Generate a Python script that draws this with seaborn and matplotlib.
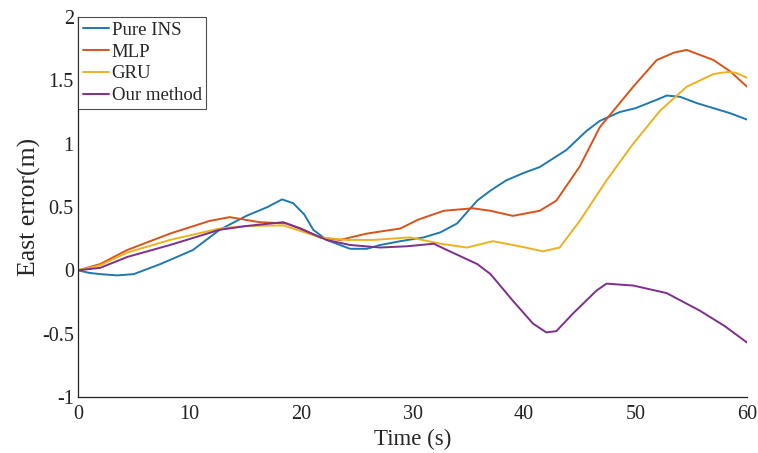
# East error vs time for four methods
import seaborn as sns
import matplotlib.pyplot as plt
import pandas as pd

# Values
t_ins = [0, 1, 2, 3.5, 5, 7.4, 10.3, 12.7, 15.1, 17, 18.3, 19.3, 20.3, 21.1, 22.3, 24.4,
         25.9, 27.1, 28.9, 31, 32.5, 34, 35.8, 37, 38.4, 40, 41.4, 43.8, 45.6, 46.8,
         48.6, 50, 52, 52.8, 54, 55.5, 57, 58.5, 60]
v_ins = [0, -0.02, -0.03, -0.04, -0.03, 0.05, 0.16, 0.32, 0.43, 0.50, 0.56, 0.53, 0.44,
         0.32, 0.24, 0.17, 0.17, 0.20, 0.23, 0.26, 0.30, 0.37, 0.55, 0.63, 0.71, 0.77,
         0.815, 0.95, 1.10, 1.18, 1.25, 1.28, 1.35, 1.38, 1.37, 1.32, 1.28, 1.24, 1.19]

t_mlp = [0, 2, 4.4, 8.25, 11.8, 13.6, 16.3, 18.7, 20, 21.7, 23.5, 25.9, 28.9, 30.5,
         32.8, 35.4, 37, 39, 41.4, 42.9, 45, 46.8, 49.8, 51.9, 53.5, 54.6, 57, 58.5, 60]
v_mlp = [0, 0.05, 0.16, 0.29, 0.39, 0.42, 0.38, 0.37, 0.33, 0.26, 0.24, 0.29, 0.33, 0.40,
         0.47, 0.49, 0.47, 0.43, 0.47, 0.55, 0.82, 1.13, 1.45, 1.66, 1.72, 1.74, 1.66,
         1.57, 1.45]

t_gru = [0, 2, 4.4, 8.25, 12.7, 15.1, 18.4, 19.3, 21.7, 24.1, 26.5, 28.9, 29.8, 32.5,
         34.9, 37.2, 39.6, 41.7, 43.2, 45, 47.4, 49.8, 52.2, 54.6, 57, 58.2, 59, 60]
v_gru = [0, 0.04, 0.14, 0.24, 0.33, 0.35, 0.355, 0.33, 0.26, 0.24, 0.24, 0.255, 0.26,
         0.21, 0.18, 0.23, 0.19, 0.15, 0.18, 0.39, 0.71, 1.00, 1.26, 1.45, 1.55, 1.565,
         1.56, 1.52]

t_our = [0, 2, 4.4, 8.25, 12.7, 15.1, 18.4, 19.9, 22.3, 24.4, 27.1, 29.5, 31.9, 33.1,
         35.8, 37, 39, 40.8, 42, 42.9, 44.4, 46.5, 47.4, 49.8, 52.8, 55.8, 58, 60]
v_our = [0, 0.02, 0.105, 0.20, 0.32, 0.35, 0.38, 0.33, 0.24, 0.20, 0.18, 0.19, 0.21, 0.16,
         0.05, -0.03, -0.24, -0.42, -0.49, -0.48, -0.34, -0.16, -0.105, -0.12, -0.18,
         -0.32, -0.44, -0.57]

labels = ['Pure INS', 'MLP', 'GRU', 'Our method']
colors = ['#1f78b0', '#D95319', '#EDB120', '#7E2F8E']

frames = []
for name, t, v in zip(labels, [t_ins, t_mlp, t_gru, t_our], [v_ins, v_mlp, v_gru, v_our]):
    frames.append(pd.DataFrame({'Time': t, 'Error': v, 'Method': name}))
df = pd.concat(frames, ignore_index=True)

sns.set_style('white')
plt.rcParams['font.family'] = ['Liberation Serif', 'DejaVu Serif']

fig = plt.figure(figsize=(7.58, 4.53), dpi=100)
ax = fig.add_axes([0.1029, 0.1236, 0.8826, 0.8389])

sns.lineplot(data=df, x='Time', y='Error', hue='Method', hue_order=labels,
             palette=dict(zip(labels, colors)), lw=1.4, sort=True,
             estimator=None, ax=ax)

ax.set_xlim(0, 60)
ax.set_ylim(-1, 2)
ax.set_xticks(range(0, 61, 10))
ax.set_yticks([-1, -0.5, 0, 0.5, 1, 1.5, 2])
ax.set_yticklabels(['-1', '-0.5', '0', '0.5', '1', '1.5', '2'])
ax.tick_params(direction='in', length=4, width=0.8, labelsize=14.5, colors='#222222')
ax.tick_params(axis='x', pad=6)
ax.tick_params(axis='y', pad=3)
for side in ['top', 'right']:
    ax.spines[side].set_visible(False)
for side in ['left', 'bottom']:
    ax.spines[side].set_color('#222222')
    ax.spines[side].set_linewidth(0.9)

ax.set_xlabel('Time (s)', fontsize=16.5, labelpad=3)
ax.set_ylabel('East error(m)', fontsize=18.5, labelpad=1)

leg = ax.legend(loc='upper left', bbox_to_anchor=(0, 1), fontsize=13.5, frameon=True,
                fancybox=False, handlelength=1.4, handletextpad=0.15,
                labelspacing=0.25, borderpad=0.25, borderaxespad=0)
leg.get_frame().set_edgecolor('#222222')
leg.get_frame().set_linewidth(0.8)

fig.savefig('out.png', dpi=100)
